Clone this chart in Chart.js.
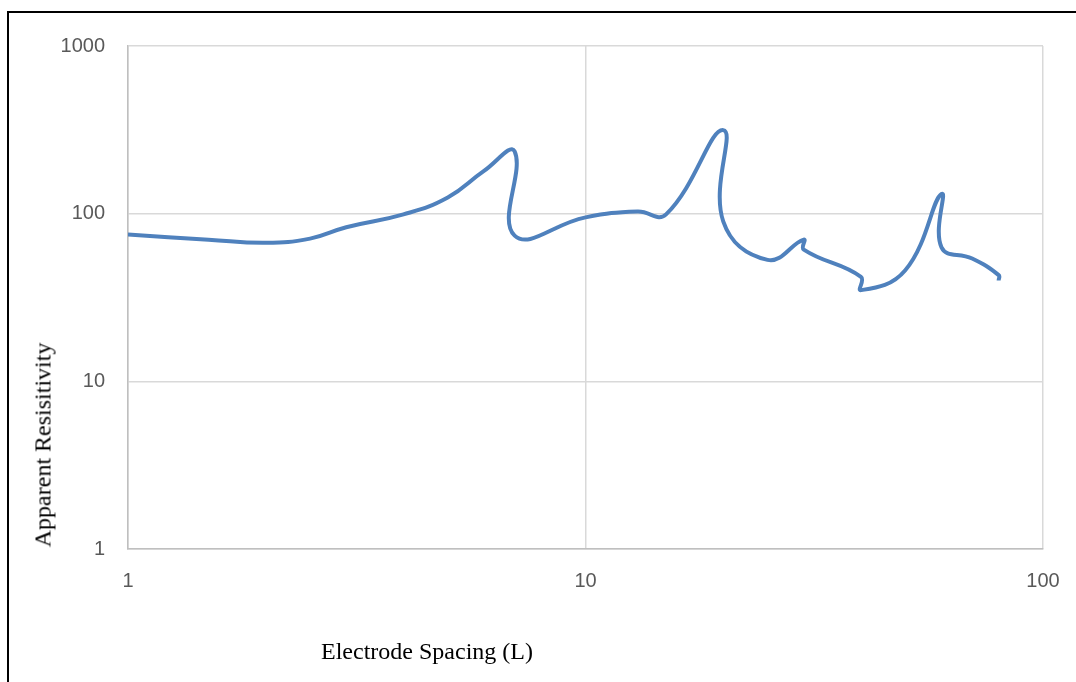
<!DOCTYPE html>
<html lang="en">
  <head>
    <meta charset="UTF-8" />
    <title>Apparent Resistivity vs Electrode Spacing</title>
    <script src="https://cdn.jsdelivr.net/npm/chart.js"></script>
    <style>
      body {
        margin: 0;
        padding: 0;
        background: #ffffff;
        overflow: hidden;
      }
      .wrap {
        position: relative;
        width: 1076px;
        height: 682px;
      }
      .frame {
        position: absolute;
        left: 7px;
        top: 11px;
        width: 1200px;
        height: 800px;
        border-left: 2px solid #000;
        border-top: 2px solid #000;
      }
      canvas {
        position: absolute;
        left: 0;
        top: 0;
      }
      .axis-title {
        position: absolute;
        font-family: "Liberation Serif", "Times New Roman", serif;
        font-size: 24px;
        color: #000;
        white-space: nowrap;
      }
      .x-title {
        left: 427px;
        top: 651px;
        transform: translate(-50%, -50%);
      }
      .y-title {
        left: 43px;
        top: 445px;
        transform: translate(-50%, -50%) rotate(-90deg);
      }
    </style>
  </head>
  <body>
    <div class="wrap">
      <div class="frame"></div>
      <canvas id="vesChart" width="1076" height="682"></canvas>
      <div class="axis-title x-title">Electrode Spacing (L)</div>
      <div class="axis-title y-title">Apparent Resisitivity</div>
    </div>

    <script>
      // readings taken off the sounding curve (repeated spacings = overlap segments)
      const spacing = [1, 1.5, 2, 2.5, 3, 4, 5, 6, 7, 7, 10, 13, 15, 20, 20, 25, 30, 30, 40, 40, 50, 60, 60, 70, 80, 80];
      const resistivity = [75, 70, 67, 71, 83, 99, 125, 180, 235, 74, 95, 103, 99, 315, 90, 53, 70, 61, 42, 35, 46, 131, 63, 54, 43, 40];
      const xTicks = [1, 10, 100];
      const yTicks = [1, 10, 100, 1000];

      const points = spacing.map((x, i) => ({ x: x, y: resistivity[i] }));

      const tickFont = { family: "'Liberation Sans', Arial, sans-serif", size: 20 };

      new Chart(document.getElementById("vesChart"), {
        type: "scatter",
        data: {
          datasets: [
            {
              data: points,
              showLine: true,
              borderColor: "#4f81bd",
              borderWidth: 4,
              pointRadius: 0,
              pointHoverRadius: 0,
              tension: 0.45,
              fill: false,
            },
          ],
        },
        options: {
          responsive: false,
          animation: false,
          layout: { padding: { left: 0, top: 46, right: 33, bottom: 0 } },
          plugins: {
            legend: { display: false },
            tooltip: { enabled: false },
          },
          scales: {
            x: {
              type: "logarithmic",
              min: 1,
              max: 100,
              afterBuildTicks: (scale) => {
                scale.ticks = xTicks.map((v) => ({ value: v }));
              },
              afterFit: (scale) => {
                scale.height = 133;
                scale.paddingLeft = 0;
                scale.paddingRight = 0;
              },
              ticks: {
                callback: (v) => String(v),
                font: tickFont,
                color: "#595959",
                padding: 20,
                maxRotation: 0,
              },
              grid: { color: "#d9d9d9", lineWidth: 1.5, drawTicks: false },
              border: { color: "#bfbfbf", width: 1.5 },
            },
            y: {
              type: "logarithmic",
              min: 1,
              max: 1000,
              afterBuildTicks: (scale) => {
                scale.ticks = yTicks.map((v) => ({ value: v }));
              },
              afterFit: (scale) => {
                scale.width = 128;
                scale.paddingTop = 0;
                scale.paddingBottom = 0;
              },
              ticks: {
                callback: (v) => String(v),
                font: tickFont,
                color: "#595959",
                padding: 23,
              },
              grid: { color: "#d9d9d9", lineWidth: 1.5, drawTicks: false },
              border: { color: "#bfbfbf", width: 1.5 },
            },
          },
        },
      });
    </script>
  </body>
</html>
